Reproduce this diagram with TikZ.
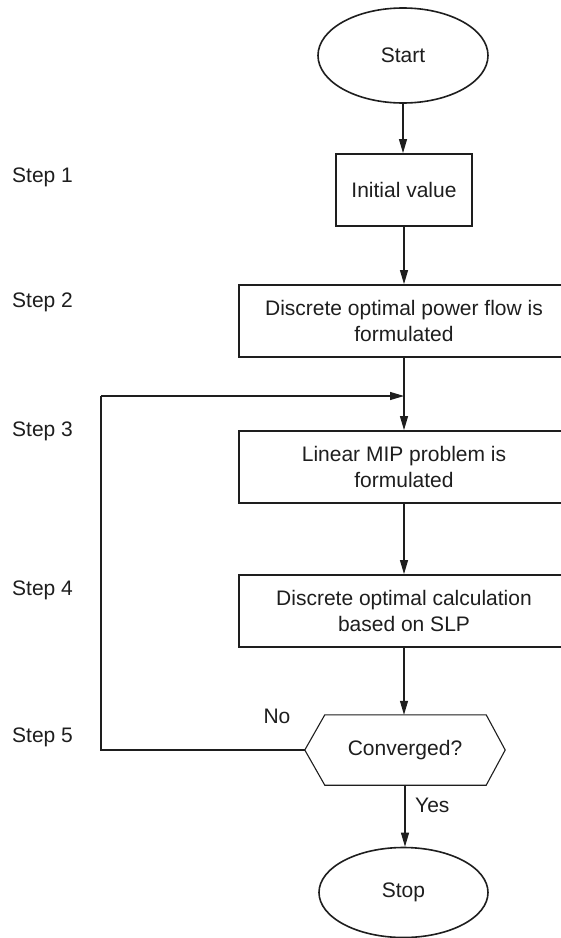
\documentclass[tikz,border=0pt]{standalone}
\usepackage{fontspec}
\setmainfont{Liberation Sans}
\usetikzlibrary{arrows.meta,shapes.geometric,calc}

\definecolor{ink}{HTML}{1E1E1E}

\tikzset{
  txt/.style={font=\fontsize{21bp}{26bp}\selectfont, text=ink},
  terminal/.style={txt, ellipse, draw=ink, line width=1.6bp, minimum width=170bp,
                   minimum height=95bp, inner sep=0pt},
  stepbox/.style={txt, rectangle, draw=ink, line width=1.8bp, align=center, inner sep=0pt},
  widebox/.style={stepbox, minimum width=330bp, minimum height=72bp},
  steplabel/.style={txt, anchor=base west, inner sep=0pt},
  flow/.style={draw=ink, line width=1.1bp, -{Triangle[length=14bp,width=8bp]}},
  plainline/.style={draw=ink, line width=1.1bp},
}

\begin{document}
\begin{tikzpicture}[x=1bp, y=-1bp]
  \useasboundingbox (0,0) rectangle (561,938);
  \clip (0,0) rectangle (561,938);
  \fill[white] (0,0) rectangle (561,938);

  % flowchart blocks
  \node[terminal] (start) at (403,55.5) {Start};
  \node[stepbox, minimum width=136bp, minimum height=72bp] (init) at (404,190) {Initial value};
  \node[widebox] (opf) at (404,321) {Discrete optimal power flow is\\formulated};
  \node[widebox] (mip) at (404,467) {Linear MIP problem is\\formulated};
  \node[widebox] (slp) at (404,611) {Discrete optimal calculation\\based on SLP};

  % decision: hexagon drawn around an invisible node
  \node[txt, minimum width=200bp, minimum height=70bp, inner sep=0pt] (conv) at (405,750) {Converged?};
  \draw[draw=ink, line width=1.1bp]
    (conv.west) -- ($(conv.north west)+(20,0)$) -- ($(conv.north east)+(-19,0)$)
    -- (conv.east) -- ($(conv.south east)+(-19,0)$) -- ($(conv.south west)+(20,0)$) -- cycle;

  \node[terminal, minimum width=169bp, minimum height=90bp] (stop) at (403.5,892.5) {Stop};

  % step labels
  \node[steplabel] (s1) at (12,182) {Step 1};
  \node[steplabel] (s2) at (12,307) {Step 2};
  \node[steplabel] (s3) at (12,436) {Step 3};
  \node[steplabel] (s4) at (12,595) {Step 4};
  \node[steplabel] (s5) at (12,742) {Step 5};

  % connectors
  \draw[flow] (start.south) -- (start.south |- init.north);
  \draw[flow] (init.south) -- (init.south |- opf.north);
  \draw[flow] (opf.south) -- (mip.north);
  \draw[flow] (mip.south) -- (slp.north);
  \draw[flow] (slp.south) -- (slp.south |- conv.north);
  \draw[flow] (conv.south) -- (conv.south |- stop.north);

  % feedback loop
  \coordinate (loopup) at (101,396);
  \coordinate (loopdown) at (conv.west -| loopup);
  \coordinate (merge) at (opf.south |- loopup);
  \draw[plainline] (conv.west) -- (loopdown) -- (loopup);
  \draw[flow] (loopup) -- (merge);

  % branch labels
  \node[txt, anchor=base, inner sep=0pt] (no) at (277,723) {No};
  \node[txt, anchor=base west, inner sep=0pt] (yes) at (415,812) {Yes};
\end{tikzpicture}
\end{document}
